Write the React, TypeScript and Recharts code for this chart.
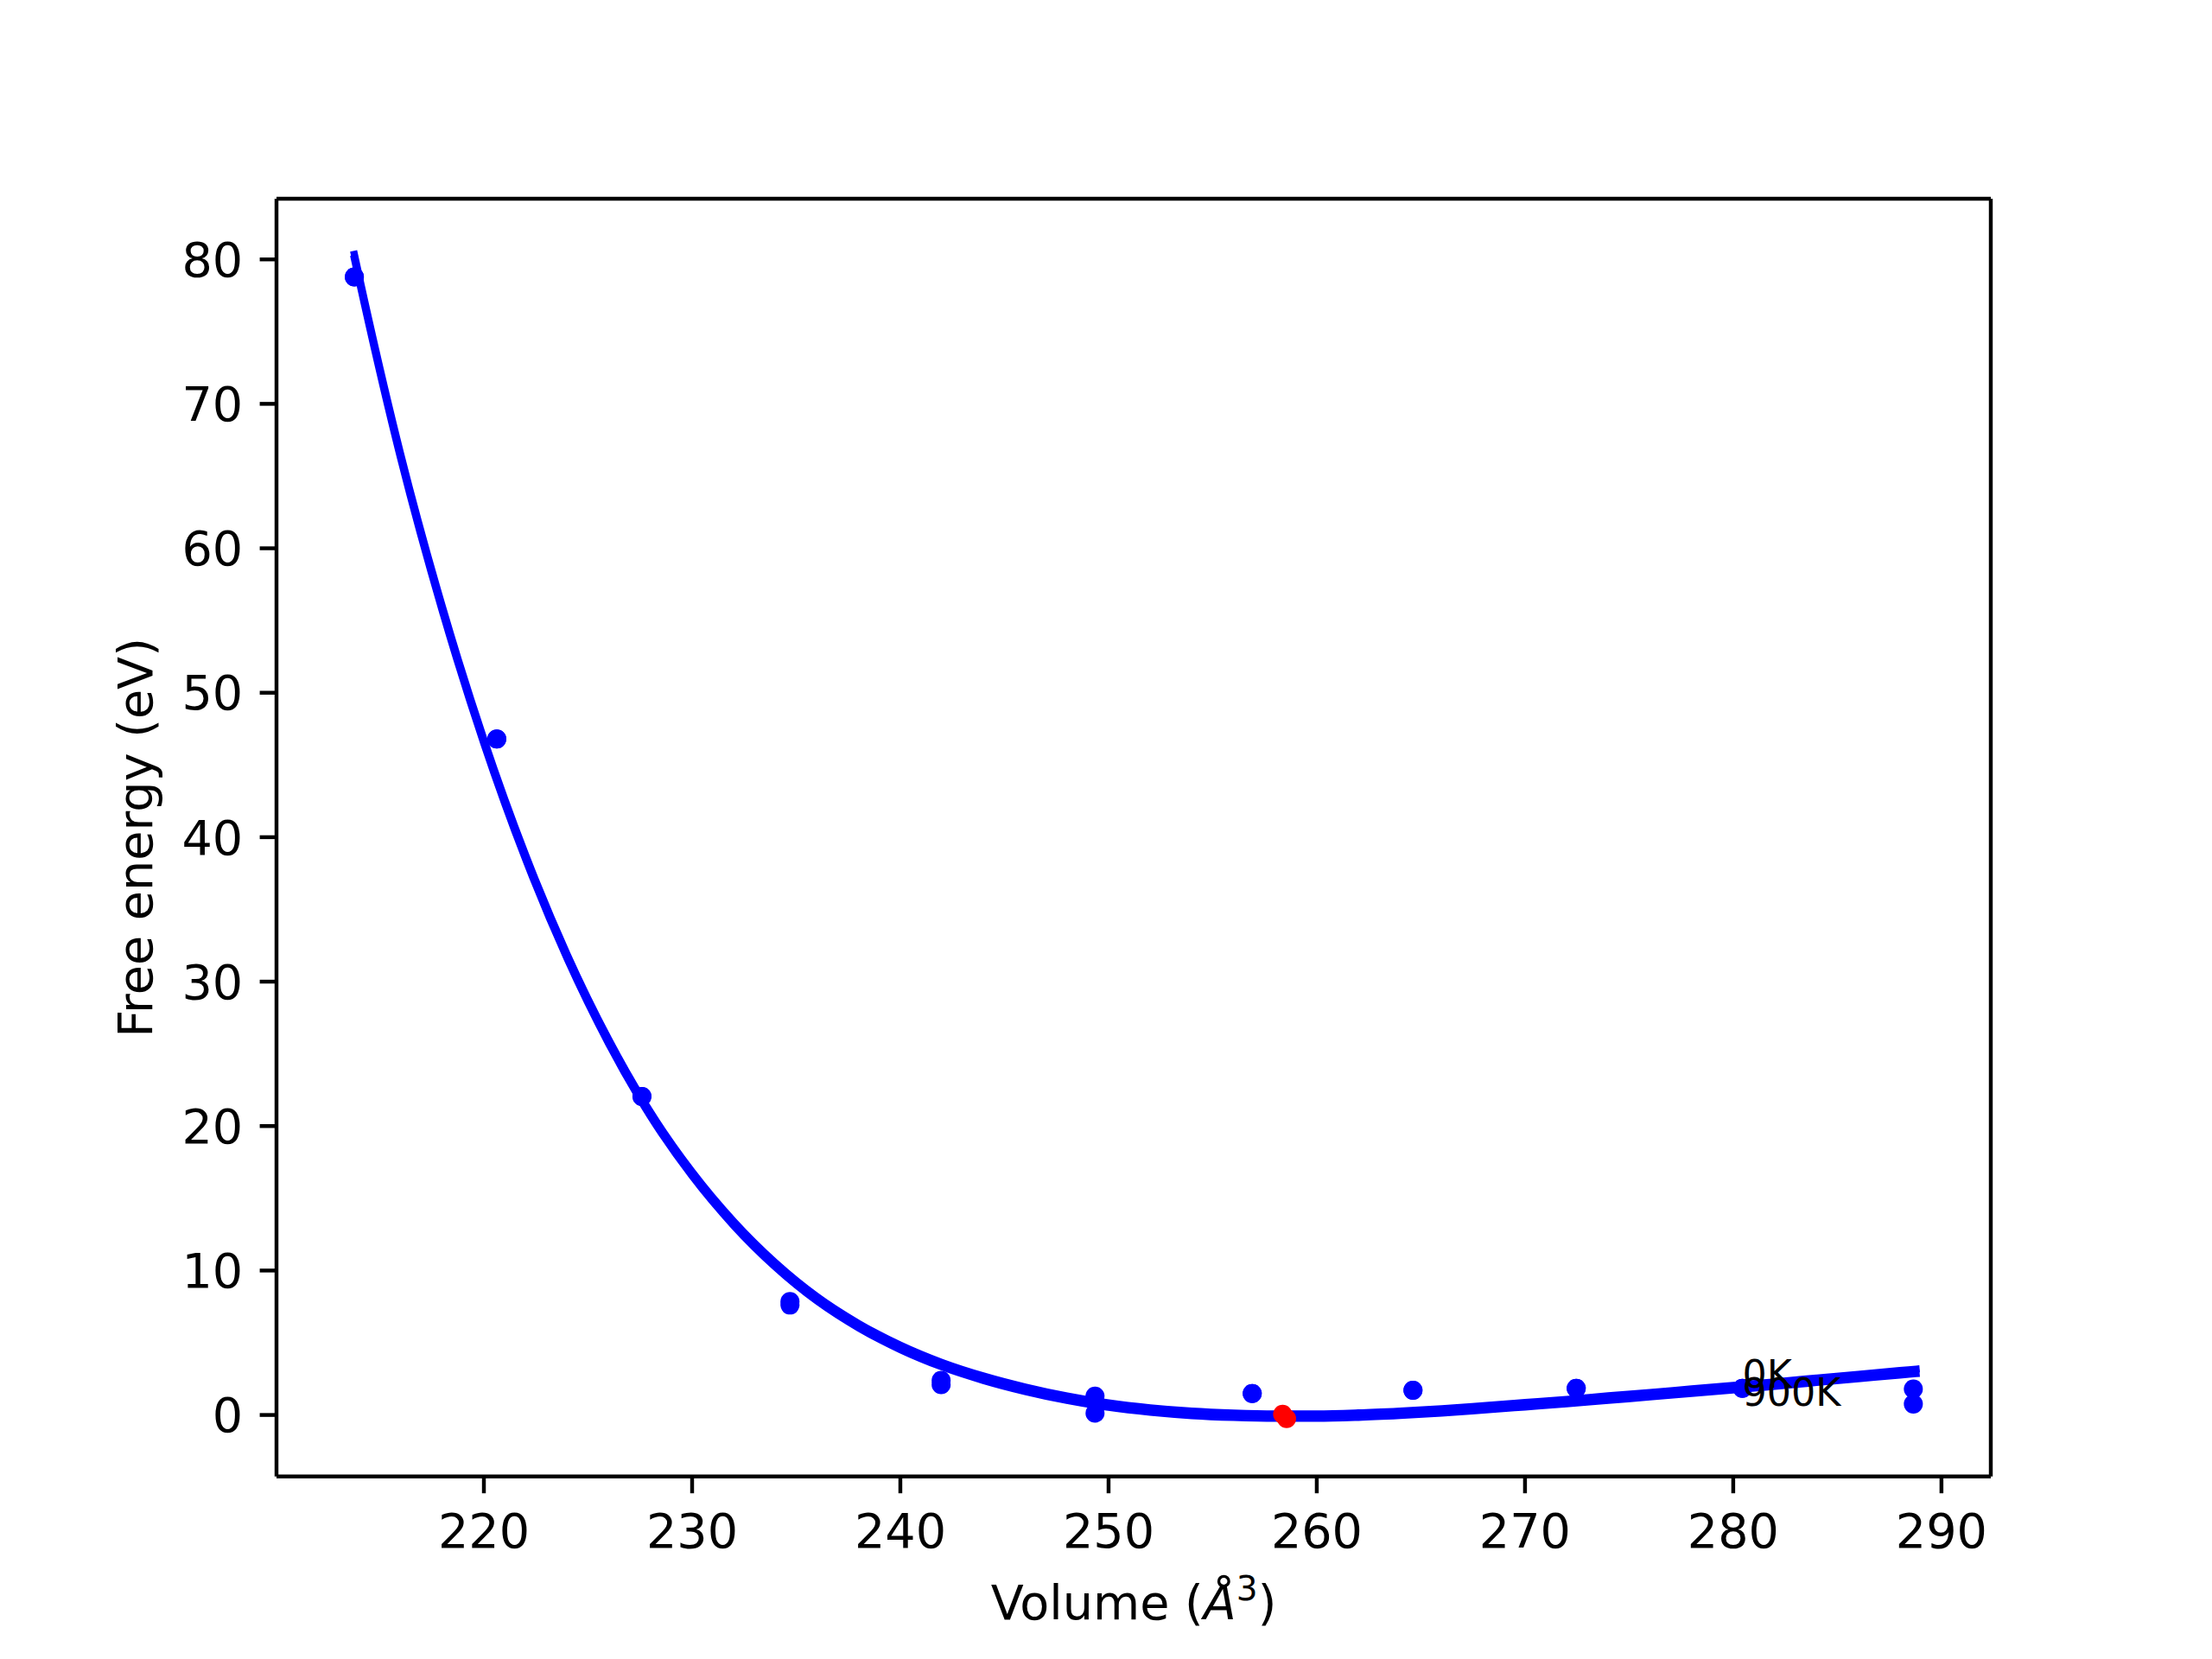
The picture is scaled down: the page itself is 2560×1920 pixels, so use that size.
import React from 'react';
import { ComposedChart, XAxis, YAxis, Line, Scatter, ReferenceLine, Label } from 'recharts';

// ---- data ----
const VOLUMES = [213.78, 220.62, 227.59, 234.7, 241.96, 249.35, 256.9, 264.62, 272.46, 280.44, 288.65];
const F_0K = [78.79, 46.8, 22.05, 7.85, 2.4, 1.31, 1.49, 1.71, 1.85, 1.85, 1.8];
const F_900K = [78.79, 46.8, 22.05, 7.61, 2.1, 0.13, 1.49, 1.71, 1.85, 1.85, 0.76];

const FIT_V = [213.78, 214, 216, 218, 220, 222, 224, 226, 228, 230, 232, 234, 236, 238, 240, 242, 244, 246, 248, 250,
  252, 254, 256, 258, 260, 262, 264, 266, 268, 270, 272, 274, 276, 278, 280, 282, 284, 286, 288, 288.78];
const FIT_0K = [80.35, 78.9, 66.54, 55.98, 46.78, 38.78, 31.88, 25.98, 20.97, 16.84, 13.4, 10.54, 8.19, 6.33, 4.83, 3.63,
  2.69, 1.93, 1.31, 0.83, 0.49, 0.26, 0.13, 0.07, 0.07, 0.14, 0.27, 0.43, 0.64, 0.86, 1.08, 1.32, 1.55, 1.8, 2.04, 2.29,
  2.55, 2.81, 3.07, 3.17];
const FIT_900K = [80.05, 78.6, 66.24, 55.68, 46.48, 38.48, 31.58, 25.68, 20.67, 16.54, 13.1, 10.24, 7.89, 6.03, 4.53, 3.33,
  2.39, 1.63, 1.01, 0.53, 0.19, -0.04, -0.17, -0.23, -0.23, -0.16, -0.03, 0.13, 0.34, 0.56, 0.78, 1.02, 1.25, 1.5, 1.74,
  1.99, 2.25, 2.51, 2.77, 2.87];

const MIN_V = [258.36, 258.55];
const MIN_F = [0.05, -0.25];

const LABEL_TEXT = ['0K', '900K'];
const LABEL_V = [280.44, 280.44];
const LABEL_F = [1.9, 0.62];

const X_TICKS = [220, 230, 240, 250, 260, 270, 280, 290];
const Y_TICKS = [0, 10, 20, 30, 40, 50, 60, 70, 80];
const X_DOMAIN: [number, number] = [210.04, 292.37];
const Y_DOMAIN: [number, number] = [-4.26, 84.2];

// ---- derived tables ----
const pts0K = VOLUMES.map((V, i) => ({ V, F: F_0K[i] }));
const pts900K = VOLUMES.map((V, i) => ({ V, F: F_900K[i] }));
const fit0K = FIT_V.map((V, i) => ({ V, F: FIT_0K[i] }));
const fit900K = FIT_V.map((V, i) => ({ V, F: FIT_900K[i] }));
const mins = MIN_V.map((V, i) => ({ V, F: MIN_F[i] }));
const labels = LABEL_TEXT.map((label, i) => ({ V: LABEL_V[i], F: LABEL_F[i], label }));

const FONT = 'DejaVu Sans';
const FS = 55.6;
const LW = 4.44;

const dot = (color: string) => (props: any) => (
  <circle cx={props.cx} cy={props.cy} r={11} fill={color} stroke="none" />
);

const labelShape = (props: any) => (
  <text x={props.cx} y={props.cy} fontSize={44.4} fontFamily={FONT} fill="#000" textAnchor="start">
    {props.payload?.label}
  </text>
);

const tickStyle = { fill: '#000', fontSize: FS, fontFamily: FONT };

export default function App() {
  return (
    <div style={{ position: 'absolute', left: 0, top: 0, width: 2560, height: 1920, background: '#fff' }}>
      <ComposedChart width={2560} height={1920} margin={{ top: 230, right: 256, bottom: 0, left: 0 }}>
        <XAxis
          type="number"
          dataKey="V"
          domain={X_DOMAIN}
          ticks={X_TICKS}
          allowDataOverflow
          height={211.2}
          tickSize={19.4}
          tickMargin={23}
          tick={tickStyle}
          axisLine={{ stroke: '#000', strokeWidth: LW }}
          tickLine={{ stroke: '#000', strokeWidth: LW }}
          interval={0}
        >
          <Label
            content={() => (
              <text x={1312} y={1874} textAnchor="middle" fontSize={FS} fontFamily={FONT} fill="#000">
                Volume (<tspan fontStyle="italic">Å</tspan>
                <tspan dy={-22} fontSize={39}>3</tspan>
                <tspan dy={22}>)</tspan>
              </text>
            )}
          />
        </XAxis>
        <YAxis
          type="number"
          dataKey="F"
          domain={Y_DOMAIN}
          ticks={Y_TICKS}
          allowDataOverflow
          width={320}
          tickSize={19.4}
          tickMargin={19.4}
          tick={tickStyle}
          axisLine={{ stroke: '#000', strokeWidth: LW }}
          tickLine={{ stroke: '#000', strokeWidth: LW }}
          interval={0}
        >
          <Label
            content={() => (
              <text
                x={176}
                y={969.5}
                transform="rotate(-90, 176, 969.5)"
                textAnchor="middle"
                fontSize={FS}
                fontFamily={FONT}
                fill="#000"
              >
                Free energy (eV)
              </text>
            )}
          />
        </YAxis>
        <ReferenceLine y={Y_DOMAIN[1]} stroke="#000" strokeWidth={LW} ifOverflow="extendDomain" />
        <ReferenceLine x={X_DOMAIN[1]} stroke="#000" strokeWidth={LW} ifOverflow="extendDomain" />

        <Scatter data={pts0K} dataKey="F" shape={dot('#0000ff')} isAnimationActive={false} />
        <Line data={fit0K} dataKey="F" type="monotone" stroke="#0000ff" strokeWidth={8.33} strokeLinecap="square"
          dot={false} activeDot={false} isAnimationActive={false} />
        <Scatter data={pts900K} dataKey="F" shape={dot('#0000ff')} isAnimationActive={false} />
        <Line data={fit900K} dataKey="F" type="monotone" stroke="#0000ff" strokeWidth={8.33} strokeLinecap="square"
          dot={false} activeDot={false} isAnimationActive={false} />
        <Scatter data={mins} dataKey="F" shape={dot('#ff0000')} isAnimationActive={false} />
        <Scatter data={labels} dataKey="F" shape={labelShape} isAnimationActive={false} />
      </ComposedChart>
    </div>
  );
}
